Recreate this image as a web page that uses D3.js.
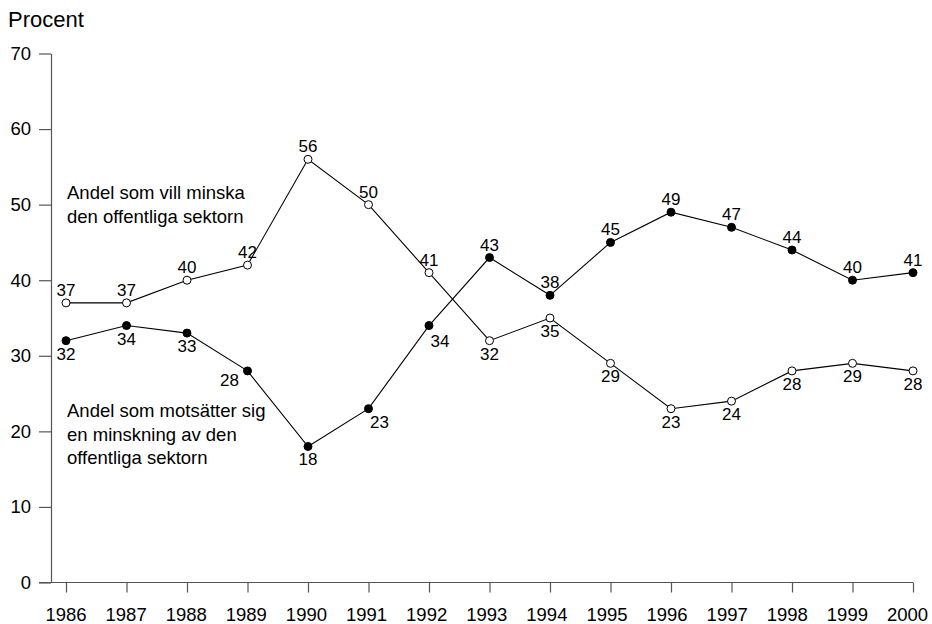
<!DOCTYPE html>
<html>
<head>
<meta charset="utf-8">
<script src="https://cdn.jsdelivr.net/npm/d3@7"></script>
<style>
  body { margin: 0; background: #fff; }
  text { font-family: "Liberation Sans", Arial, sans-serif; fill: #000; }
</style>
</head>
<body>
<svg id="chart"></svg>
<script>
const years = [1986, 1987, 1988, 1989, 1990, 1991, 1992, 1993, 1994, 1995, 1996, 1997, 1998, 1999, 2000];
const minska = [37, 37, 40, 42, 56, 50, 41, 32, 35, 29, 23, 24, 28, 29, 28];
const motsatter = [32, 34, 33, 28, 18, 23, 34, 43, 38, 45, 49, 47, 44, 40, 41];
const yTicks = [0, 10, 20, 30, 40, 50, 60, 70];
const labelMinska = ["Andel som vill minska", "den offentliga sektorn"];
const labelMotsatter = ["Andel som motsätter sig", "en minskning av den", "offentliga sektorn"];

const width = 932, height = 624;

const svg = d3.select("#chart")
  .attr("width", width)
  .attr("height", height);

const x = d3.scalePoint()
  .domain(years)
  .range([66, 913]);

// year labels sit on a slightly tighter spread than the ticks
const xLab = d3.scalePoint()
  .domain(years)
  .range([65.5, 907]);

const y = d3.scaleLinear()
  .domain([0, 70])
  .range([582.5, 53.5]);

// y axis
const yAxis = svg.append("g")
  .attr("transform", "translate(51,0)")
  .call(d3.axisLeft(y).tickValues(yTicks).tickSize(12).tickPadding(8).tickSizeOuter(0));
yAxis.selectAll("text").style("font-size", "18.5px").attr("fill", "#000");

// x axis
const xAxis = svg.append("g")
  .attr("transform", `translate(0,${y(0)})`)
  .call(d3.axisBottom(x).tickSize(10).tickPadding(15).tickSizeOuter(0));
xAxis.selectAll("text")
  .style("font-size", "18.5px")
  .attr("fill", "#000")
  .attr("x", d => xLab(d) - x(d));
xAxis.select(".domain").attr("d", `M39,0H${x(2000)}`);

svg.selectAll(".domain, .tick line").attr("stroke", "#555").attr("stroke-width", 1.2);

svg.append("text")
  .attr("x", 8)
  .attr("y", 27)
  .style("font-size", "22px")
  .text("Procent");

const line = d3.line()
  .x((d, i) => x(years[i]))
  .y(d => y(d));

// label nudges where the line is steep
const nudge = { "motsatter-1989": [-18, -4], "motsatter-1991": [11, 0], "motsatter-1992": [11, 2] };

function drawSeries(values, other, key, fill) {
  const g = svg.append("g");
  g.append("path")
    .datum(values)
    .attr("d", line)
    .attr("fill", "none")
    .attr("stroke", "#000")
    .attr("stroke-width", 1.1);

  g.selectAll("circle")
    .data(values)
    .enter()
    .append("circle")
    .attr("cx", (d, i) => x(years[i]))
    .attr("cy", d => y(d))
    .attr("r", 4)
    .attr("fill", fill)
    .attr("stroke", "#000")
    .attr("stroke-width", 1);

  g.selectAll("text.value")
    .data(values)
    .enter()
    .append("text")
    .attr("class", "value")
    .attr("text-anchor", "middle")
    .style("font-size", "17px")
    .attr("x", (d, i) => {
      const n = nudge[key + "-" + years[i]];
      return x(years[i]) + (n ? n[0] : 0);
    })
    .attr("y", (d, i) => {
      const n = nudge[key + "-" + years[i]];
      const base = d > other[i] ? y(d) - 7 : y(d) + 19;
      return base + (n ? n[1] : 0);
    })
    .text(d => d);
}

drawSeries(minska, motsatter, "minska", "#fff");
drawSeries(motsatter, minska, "motsatter", "#000");

// annotations
svg.append("g").selectAll("text")
  .data(labelMinska)
  .enter()
  .append("text")
  .attr("x", 67)
  .attr("y", (d, i) => 199 + i * 24)
  .style("font-size", "18.5px")
  .text(d => d);

svg.append("g").selectAll("text")
  .data(labelMotsatter)
  .enter()
  .append("text")
  .attr("x", 67)
  .attr("y", (d, i) => 417 + i * 23.5)
  .style("font-size", "18.5px")
  .text(d => d);
</script>
</body>
</html>
